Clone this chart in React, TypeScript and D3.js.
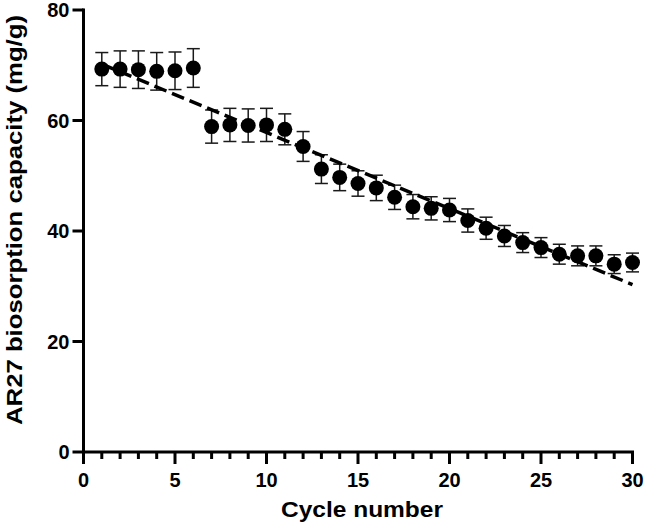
import * as d3 from "d3";

// cycle numbers and capacity values (mg/g), with error bar half-widths
const cycles = d3.range(1, 31);
const capacity = [
  69.3, 69.3, 69.2, 68.9, 69.0, 69.5, 58.9, 59.2, 59.1, 59.2,
  58.4, 55.3, 51.2, 49.7, 48.6, 47.8, 46.1, 44.4, 44.1, 43.8,
  41.9, 40.5, 39.1, 37.9, 37.0, 35.8, 35.5, 35.5, 34.0, 34.3,
];
const errors = [
  3.0, 3.3, 3.4, 3.4, 3.4, 3.5, 3.0, 3.0, 3.0, 3.0,
  2.8, 2.7, 2.6, 2.4, 2.3, 2.3, 2.2, 2.2, 2.1, 2.1,
  2.1, 2.0, 1.9, 1.8, 1.8, 1.8, 1.8, 1.8, 1.7, 1.7,
];
// linear trend line end points
const fitX = [1, 30];
const fitY = [70.2, 30.3];

const xTicks = [0, 5, 10, 15, 20, 25, 30];
const xMinorTicks = d3.range(0, 31);
const yTicks = [0, 20, 40, 60, 80];

const W = 645;
const H = 528;
const font = "'Liberation Sans', Arial, sans-serif";

const App = () => {
  const x = d3.scaleLinear().domain([0, 30]).range([83.5, 632.5]);
  const y = d3.scaleLinear().domain([0, 80]).range([452, 10]);

  const fitLine = d3
    .line<number>()
    .x((d) => x(fitX[d]))
    .y((d) => y(fitY[d]));

  return (
    <svg
      width={W}
      height={H}
      style={{ position: "absolute", left: 0, top: 0, background: "#fff" }}
      fontFamily={font}
    >
      {/* error bars */}
      <g stroke="#1a1a1a" strokeWidth={1.5} fill="none">
        {cycles.map((c, i) => {
          const cx = x(c);
          const top = y(capacity[i] + errors[i]);
          const bot = y(capacity[i] - errors[i]);
          return (
            <g key={c}>
              <line x1={cx} x2={cx} y1={top} y2={bot} />
              <line x1={cx - 6.5} x2={cx + 6.5} y1={top} y2={top} />
              <line x1={cx - 6.5} x2={cx + 6.5} y1={bot} y2={bot} />
            </g>
          );
        })}
      </g>

      {/* markers */}
      <g fill="#000">
        {cycles.map((c, i) => (
          <circle key={c} cx={x(c)} cy={y(capacity[i])} r={7.5} />
        ))}
      </g>

      {/* trend line */}
      <path
        d={fitLine([0, 1]) ?? ""}
        fill="none"
        stroke="#000"
        strokeWidth={3.5}
        strokeDasharray="13,6"
      />

      {/* y axis */}
      <g stroke="#000" strokeWidth={3}>
        <line x1={x(0)} x2={x(0)} y1={y(80) - 1.5} y2={y(0) + 12} />
        {yTicks.map((t) => (
          <line key={t} x1={x(0) - 11} x2={x(0)} y1={y(t)} y2={y(t)} />
        ))}
      </g>
      <g fontSize={20} fontWeight="bold" textAnchor="end">
        {yTicks.map((t) => (
          <text key={t} x={x(0) - 14} y={y(t)} dy="0.36em">
            {t}
          </text>
        ))}
      </g>

      {/* x axis */}
      <g stroke="#000" strokeWidth={3}>
        <line x1={x(0) - 1.5} x2={x(30) + 1.5} y1={y(0)} y2={y(0)} />
        {xMinorTicks.map((t) => (
          <line
            key={t}
            x1={x(t)}
            x2={x(t)}
            y1={y(0)}
            y2={y(0) + (t % 5 === 0 ? 12 : 7)}
          />
        ))}
      </g>
      <g fontSize={20} fontWeight="bold" textAnchor="middle">
        {xTicks.map((t) => (
          <text key={t} x={x(t)} y={486.5}>
            {t}
          </text>
        ))}
      </g>

      {/* titles */}
      <text
        x={(280 + 444) / 2}
        y={517}
        fontSize={22}
        fontWeight="bold"
        textAnchor="middle"
        textLength={162}
        lengthAdjust="spacingAndGlyphs"
      >
        Cycle number
      </text>
      <text
        transform={`translate(22,220) rotate(-90)`}
        fontSize={22}
        fontWeight="bold"
        textAnchor="middle"
        textLength={410}
        lengthAdjust="spacingAndGlyphs"
      >
        AR27 biosorption capacity (mg/g)
      </text>
    </svg>
  );
};

export default App;
